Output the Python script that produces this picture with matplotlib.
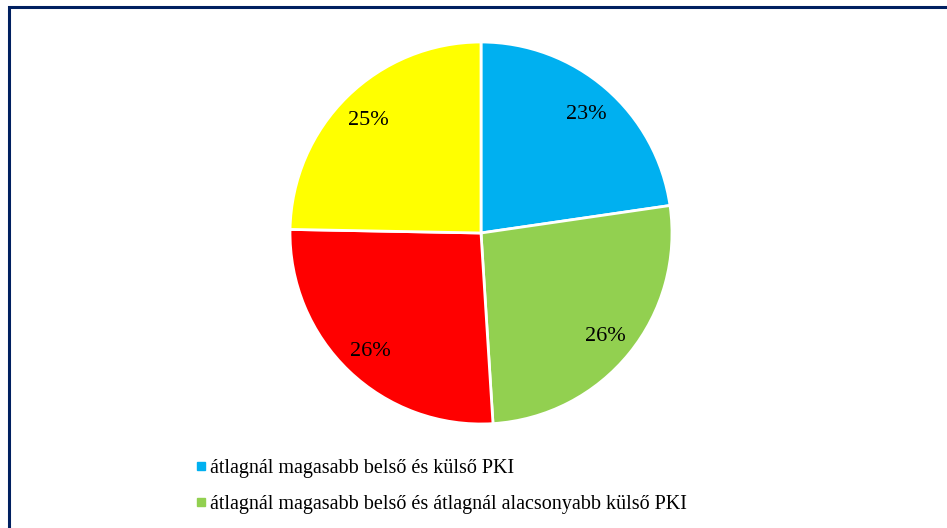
import matplotlib.pyplot as plt
from matplotlib.patches import Rectangle
from matplotlib.lines import Line2D

# slice shares (%), clockwise from 12 o'clock
shares = [22.7, 26.3, 26.3, 24.7]
pct_labels = ["23%", "26%", "26%", "25%"]
colors = ["#00B0F0", "#92D050", "#FF0000", "#FFFF00"]
legend_labels = [
    "átlagnál magasabb belső és külső PKI",
    "átlagnál magasabb belső és átlagnál alacsonyabb külső PKI",
]

plt.rcParams["font.family"] = ["Liberation Serif", "DejaVu Serif"]

fig = plt.figure(figsize=(9.47, 5.28), dpi=100)

# frame of the chart area, cut off at right and bottom
fig.patches.append(Rectangle((8.5 / 947, -0.05), 1.0, 1 - 7.5 / 528 + 0.05,
                             transform=fig.transFigure, fill=False,
                             edgecolor="#002060", linewidth=2.2))

# pie: centre (481, 233), radius ~191 px
cx, cy, r = 481, 233, 191
ax = fig.add_axes([(cx - r) / 947, 1 - (cy + r) / 528, 2 * r / 947, 2 * r / 528])
wedges, texts = ax.pie(shares, colors=colors, startangle=90, counterclock=False,
                       labels=pct_labels, labeldistance=0.84,
                       wedgeprops=dict(edgecolor="white", linewidth=2))
for t in texts:
    t.set_fontsize(16)
    t.set_ha("center")
    t.set_va("center_baseline")
ax.set_xlim(-1, 1)
ax.set_ylim(-1, 1)
ax.set_aspect("equal")
ax.axis("off")

handles = [Line2D([], [], marker="s", linestyle="none", markersize=5.5,
                  markerfacecolor=c, markeredgecolor=c) for c in colors[:2]]
fig.legend(handles, legend_labels, loc="upper left",
           bbox_to_anchor=(195 / 947, 1 - 459 / 528), frameon=False,
           fontsize=14.5, handlelength=0.6, handletextpad=0.15,
           labelspacing=0.85, borderpad=0, borderaxespad=0)

fig.savefig("out.png", dpi=100)
